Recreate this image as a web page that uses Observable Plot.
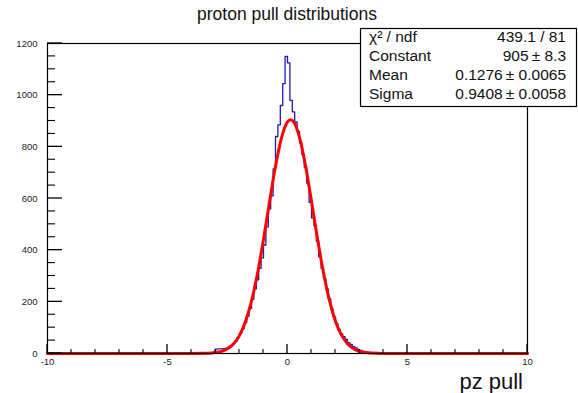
<!DOCTYPE html>
<html><head><meta charset="utf-8">
<script src="https://cdn.jsdelivr.net/npm/d3@7"></script>
<script src="https://cdn.jsdelivr.net/npm/@observablehq/plot@0.6"></script>
<style>
html,body{margin:0;padding:0;background:#fff;}
#chart{width:578px;height:393px;}
svg{display:block;}
</style></head><body><div id="chart"></div>
<script>
// ---- data ----
const title = "proton pull distributions";
const xLabel = "pz pull";
const binStart = -3.4;   // lower edge of first filled bin
const binWidth = 0.1;
const counts = [
  1, 1, 2, 3, 17, 18, 18, 19, 20, 24,
  30, 38, 48, 62, 78, 97, 120, 145, 175, 210,
  250, 285, 330, 370, 420, 490, 560, 610, 715, 840,
  885, 960, 1045, 1150, 1125, 980, 935, 897, 860, 815,
  770, 720, 660, 585, 525, 495, 435, 375, 330, 290,
  250, 212, 172, 142, 115, 93, 76, 65, 55, 42,
  35, 27, 22, 16, 12, 8, 6, 4, 3, 2,
  2, 1, 1
];
const fitX = [-10, -4, -3.5, -3.25, -3, -2.75, -2.5, -2.25, -2, -1.75, -1.5, -1.25, -1, -0.75, -0.5, -0.25, 0, 0.125, 0.25, 0.5, 0.75, 1, 1.25, 1.5, 1.75, 2, 2.25, 2.5, 2.75, 3, 3.25, 3.5, 4, 10];
const fitY = [0, 0.06, 0.5, 1.4, 3.6, 8.4, 18.3, 37.1, 70.2, 123.5, 202.7, 309.8, 441.3, 585.7, 724.5, 835.0, 896.7, 905, 897.4, 836.9, 727.2, 588.7, 444.2, 312.3, 204.6, 124.9, 71.0, 37.6, 18.6, 8.6, 3.7, 1.5, 0.19, 0];
const xMajorTicks = [-10, -5, 0, 5, 10];
const xMinorTicks = [-9, -8, -7, -6, -4, -3, -2, -1, 1, 2, 3, 4, 6, 7, 8, 9];
const yMajorTicks = [0, 200, 400, 600, 800, 1000, 1200];
const yMinorTicks = [50, 100, 150, 250, 300, 350, 450, 500, 550, 650, 700, 750, 850, 900, 950, 1050, 1100, 1150];
const statsLabels = ["χ² / ndf", "Constant", "Mean", "Sigma"];
const statsValues = ["439.1 / 81", "905\u2009± 8.3", "0.1276\u2009± 0.0065", "0.9408\u2009± 0.0058"];

// ---- build tables ----
const hist = [{x: -10, y: 0}, {x: binStart, y: 0}];
counts.forEach((c, i) => hist.push({x: binStart + i * binWidth, y: c}));
hist.push({x: binStart + counts.length * binWidth, y: 0});
hist.push({x: 10, y: 0});
const fit = fitX.map((x, i) => ({x, y: fitY[i]}));

const W = 578, H = 393, mL = 47, mR = 51, mT = 43, mB = 40;
const font = "'Liberation Sans', Arial, Helvetica, sans-serif";
const plot = Plot.plot({
  width: W, height: H,
  marginLeft: mL, marginRight: mR, marginTop: mT, marginBottom: mB,
  x: {domain: [-10, 10], label: null},
  y: {domain: [0, 1200], label: null},
  style: {fontFamily: font, background: "white", color: "black"},
  marks: [
    Plot.line(hist, {x: "x", y: "y", curve: "step-after", stroke: "#1c1ca6", strokeWidth: 1.3}),
    Plot.line(fit, {x: "x", y: "y", curve: "monotone-x", stroke: "#ff0000", strokeWidth: 3}),
    Plot.frame({stroke: "black", strokeWidth: 1.2}),
    Plot.axisX(xMajorTicks, {tickSize: 0, tickPadding: 5, fontSize: 9.5, fill: "#222", label: null, tickFormat: d => String(d)}),
    Plot.axisY(yMajorTicks, {tickSize: 0, tickPadding: 10, fontSize: 9.5, fill: "#222", label: null, tickFormat: d => String(d)})
  ]
});
document.getElementById("chart").appendChild(plot);

// ---- inward ROOT-style ticks, positioned with the plot's own scales ----
const sx = plot.scale("x"), sy = plot.scale("y");
const svg = d3.select(plot);
const y0 = sy.apply(0), x0 = sx.apply(-10);
const tk = svg.append("g").attr("stroke", "black").attr("fill", "none");
xMinorTicks.forEach(v => { const p = sx.apply(v); tk.append("line").attr("x1", p).attr("x2", p).attr("y1", y0).attr("y2", y0 - 4).attr("stroke-width", 1.1); });
xMajorTicks.forEach(v => { const p = sx.apply(v); tk.append("line").attr("x1", p).attr("x2", p).attr("y1", y0).attr("y2", y0 - 9).attr("stroke-width", 1.3); });
yMinorTicks.forEach(v => { const p = sy.apply(v); tk.append("line").attr("y1", p).attr("y2", p).attr("x1", x0).attr("x2", x0 + 8).attr("stroke-width", 1.1); });
yMajorTicks.forEach(v => { const p = sy.apply(v); tk.append("line").attr("y1", p).attr("y2", p).attr("x1", x0).attr("x2", x0 + 15).attr("stroke-width", 1.3); });

// ---- annotations: title, axis title, stats box ----
svg.append("text").attr("x", 197).attr("y", 20).attr("font-size", 17.5).attr("text-anchor", "start")
  .attr("font-family", font).attr("fill", "#111").text(title);
svg.append("text").attr("x", 523).attr("y", 389).attr("text-anchor", "end")
  .attr("font-size", 22).attr("font-family", font).attr("fill", "#111").text(xLabel);
const g = svg.append("g").attr("font-family", font).attr("font-size", 15.5).attr("fill", "#111");
g.append("rect").attr("x", 360.5).attr("y", 28.5).attr("width", 216).attr("height", 78)
  .attr("fill", "white").attr("stroke", "black").attr("stroke-width", 1.2);
statsLabels.forEach((s, i) => {
  g.append("text").attr("x", 369).attr("y", 41.5 + i * 19).attr("text-anchor", "start").text(s);
  g.append("text").attr("x", 566).attr("y", 41.5 + i * 19).attr("text-anchor", "end").text(statsValues[i]);
});
</script></body></html>
